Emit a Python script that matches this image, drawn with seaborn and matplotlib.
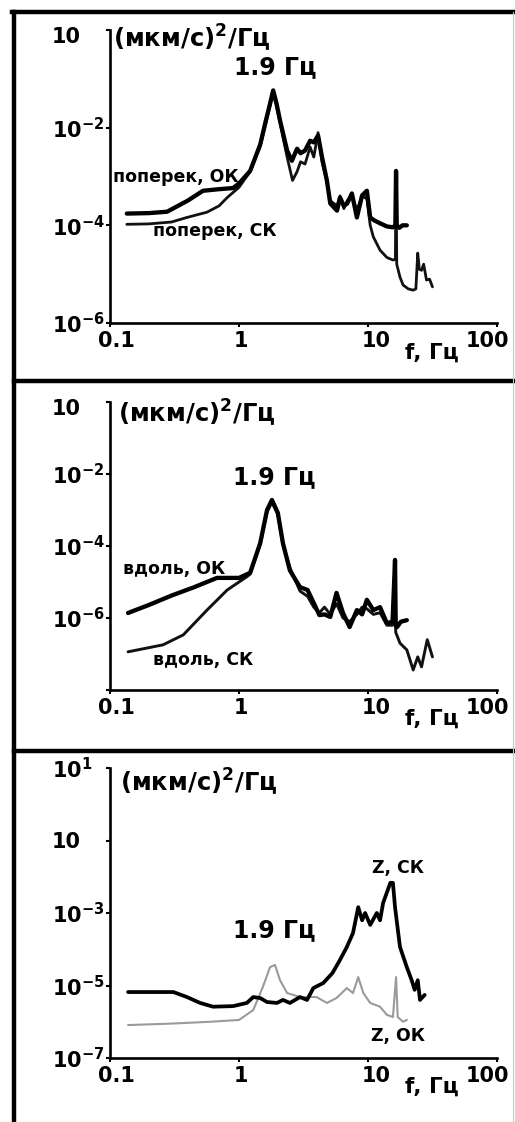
import numpy as np
import pandas as pd
import matplotlib
matplotlib.use("Agg")
import matplotlib.pyplot as plt
import seaborn as sns
from matplotlib.lines import Line2D
from matplotlib.ticker import NullLocator
from matplotlib.transforms import ScaledTranslation

# ---- data: f in Hz, spectral density in (мкм/с)^2/Гц ----
# panel 1: поперек
f_pop_ok = [0.135, 0.2, 0.277, 0.4, 0.526, 0.7, 0.9, 1.0, 1.22, 1.46, 1.6, 1.74, 1.84, 1.95, 2.08,
            2.36, 2.57, 2.82, 3.0, 3.25, 3.56, 3.8, 4.1, 4.4, 4.8, 5.1, 5.75, 6.07, 6.5, 6.9, 7.5,
            8.2, 9.0, 9.8, 10.4, 11.2, 12.4, 14.0, 15.6, 16.3, 16.5, 16.7, 17.5, 18.5, 20.0]
s_pop_ok = [1.74e-4, 1.78e-4, 1.9e-4, 3.2e-4, 5.1e-4, 5.5e-4, 5.8e-4, 7.2e-4, 1.3e-3, 4.5e-3,
            1.26e-2, 3.1e-2, 5.8e-2, 3.2e-2, 1.4e-2, 3.4e-3, 2.1e-3, 3.7e-3, 3.0e-3, 3.4e-3,
            5.4e-3, 5.0e-3, 6.9e-3, 2.5e-3, 8.3e-4, 2.8e-4, 2.0e-4, 3.7e-4, 2.5e-4, 2.8e-4,
            4.5e-4, 1.45e-4, 4.1e-4, 5.1e-4, 1.45e-4, 1.26e-4, 1.1e-4, 9.5e-5, 9.1e-5, 1.0e-4,
            1.3e-3, 1.0e-4, 8.9e-5, 1.0e-4, 1.0e-4]
f_pop_sk = [0.135, 0.2, 0.3, 0.395, 0.565, 0.7, 0.81, 1.0, 1.22, 1.46, 1.6, 1.74, 1.84, 1.95, 2.08,
            2.36, 2.6, 2.82, 3.0, 3.25, 3.56, 3.8, 4.1, 4.4, 4.8, 5.1, 5.75, 6.07, 6.5, 6.9, 7.5,
            8.2, 9.0, 9.8, 10.4, 11.0, 12.4, 14.0, 15.6, 16.3, 16.5, 16.7, 17.7, 18.7, 20.5, 22.4,
            23.5, 24.3, 25.0, 26.0, 27.0, 28.4, 30.0, 31.6]
s_pop_sk = [1.05e-4, 1.07e-4, 1.17e-4, 1.45e-4, 1.86e-4, 2.5e-4, 3.7e-4, 6.0e-4, 1.26e-3, 4.2e-3,
            1.12e-2, 2.8e-2, 5.2e-2, 2.8e-2, 1.26e-2, 2.5e-3, 8.3e-4, 1.26e-3, 2.0e-3, 1.8e-3,
            4.0e-3, 2.5e-3, 7.9e-3, 2.0e-3, 7.9e-4, 3.2e-4, 2.5e-4, 4.0e-4, 2.2e-4, 3.2e-4,
            4.0e-4, 2.0e-4, 4.0e-4, 3.5e-4, 1.0e-4, 5.8e-5, 3.1e-5, 2.2e-5, 1.95e-5, 2.0e-5,
            1.3e-3, 1.6e-5, 8.7e-6, 6.0e-6, 5.0e-6, 4.7e-6, 5.0e-6, 2.7e-5, 1.26e-5, 1.2e-5,
            1.6e-5, 7.6e-6, 7.9e-6, 5.5e-6]

# panel 2: вдоль
f_vd_ok = [0.138, 0.2, 0.3, 0.45, 0.675, 0.85, 1.0, 1.22, 1.46, 1.65, 1.8, 2.0, 2.19, 2.48, 2.97,
           3.4, 3.8, 4.2, 4.6, 5.1, 5.7, 6.4, 7.2, 8.2, 9.0, 9.8, 11.0, 12.4, 14.0, 15.5, 16.2,
           16.4, 16.8, 18.0, 20.0]
s_vd_ok = [1.38e-6, 2.3e-6, 4.2e-6, 7.2e-6, 1.3e-5, 1.3e-5, 1.3e-5, 1.8e-5, 1.2e-4, 1.0e-3,
           1.9e-3, 8.3e-4, 1.2e-4, 2.1e-5, 7.2e-6, 6.0e-6, 2.6e-6, 1.2e-6, 1.26e-6, 1.07e-6,
           5.0e-6, 1.38e-6, 5.6e-7, 1.66e-6, 1.26e-6, 3.2e-6, 1.66e-6, 2.0e-6, 7.2e-7, 7.9e-7,
           4.1e-5, 6.3e-7, 5.6e-7, 7.9e-7, 8.7e-7]
f_vd_sk = [0.138, 0.258, 0.37, 0.565, 0.81, 1.0, 1.15, 1.22, 1.46, 1.65, 1.8, 2.0, 2.19, 2.48,
           2.97, 3.4, 3.8, 4.2, 4.6, 5.1, 5.7, 6.4, 7.2, 8.2, 9.0, 9.8, 11.0, 12.4, 14.0, 15.5,
           16.2, 16.4, 17.7, 20.0, 22.4, 24.3, 26.0, 28.8, 31.6]
s_vd_sk = [1.15e-7, 1.8e-7, 3.4e-7, 1.66e-6, 6.0e-6, 1.0e-5, 1.4e-5, 1.66e-5, 1.12e-4, 8.9e-4,
           1.66e-3, 7.6e-4, 1.12e-4, 2.5e-5, 5.6e-6, 4.0e-6, 2.0e-6, 1.4e-6, 2.0e-6, 1.26e-6,
           2.5e-6, 1.0e-6, 7.9e-7, 1.26e-6, 2.0e-6, 1.8e-6, 1.26e-6, 1.4e-6, 6.3e-7, 6.3e-7,
           4.1e-5, 4.0e-7, 2.0e-7, 1.3e-7, 3.6e-8, 8.3e-8, 4.4e-8, 2.5e-7, 8.3e-8]

# panel 3: Z
f_z_sk = [0.138, 0.2, 0.31, 0.395, 0.5, 0.63, 0.9, 1.15, 1.29, 1.46, 1.65, 1.97, 2.19, 2.48, 2.97,
          3.37, 3.77, 4.5, 5.3, 6.05, 6.85, 7.65, 8.4, 9.0, 9.5, 10.4, 11.7, 12.4, 13.1, 14.9,
          15.6, 16.2, 17.7, 20.0, 21.8, 23.0, 24.3, 25.3, 27.5]
s_z_sk = [6.6e-6, 6.6e-6, 6.6e-6, 4.8e-6, 3.3e-6, 2.6e-6, 2.7e-6, 3.3e-6, 4.8e-6, 4.5e-6, 3.5e-6,
          3.3e-6, 4.0e-6, 3.3e-6, 4.8e-6, 4.0e-6, 8.5e-6, 1.17e-5, 2.2e-5, 5.0e-5, 1.15e-4,
          2.8e-4, 1.45e-3, 6.3e-4, 1.0e-3, 4.7e-4, 1.0e-3, 6.3e-4, 1.9e-3, 6.8e-3, 6.8e-3,
          1.45e-3, 1.15e-4, 3.2e-5, 1.4e-5, 7.6e-6, 1.4e-5, 4.0e-6, 5.5e-6]
f_z_ok = [0.138, 0.3, 0.6, 1.0, 1.29, 1.53, 1.74, 1.9, 2.08, 2.36, 2.97, 4.0, 4.8, 5.7, 6.85, 7.65,
          8.4, 9.2, 10.4, 12.4, 14.0, 15.6, 16.5, 17.0, 18.7, 20.0]
s_z_ok = [8.1e-7, 8.9e-7, 1.0e-6, 1.12e-6, 2.1e-6, 9.1e-6, 3.2e-5, 3.7e-5, 1.4e-5, 6.2e-6, 4.8e-6,
          4.8e-6, 3.3e-6, 4.5e-6, 8.5e-6, 6.2e-6, 1.7e-5, 6.2e-6, 3.3e-6, 2.6e-6, 1.55e-6,
          1.35e-6, 1.7e-5, 1.35e-6, 1.0e-6, 1.12e-6]

x_ticks = [0.1, 1, 10, 100]
x_labels = ["0.1", "1", "10", "100"]
unit_label = "(мкм/с)$^{2}$/Гц"
peak_label = "1.9 Гц"
freq_label = "f, Гц"

sns.set_style("white")
plt.rcParams['font.family'] = ['DejaVu Sans']
plt.rcParams['font.weight'] = 'bold'
plt.rcParams['mathtext.fontset'] = 'dejavusans'
plt.rcParams['mathtext.default'] = 'bf'
for key in ['text.color', 'axes.labelcolor', 'xtick.color', 'ytick.color',
            'xtick.labelcolor', 'ytick.labelcolor']:
    plt.rcParams[key] = 'black'

fig = plt.figure(figsize=(5.15, 11.22), dpi=100)
W, H = 515.0, 1122.0


def add_axes_px(left, top, right, bottom):
    return fig.add_axes([left / W, 1 - bottom / H, (right - left) / W, (bottom - top) / H])


def sup(e):
    return r"$10^{\mathbf{" + e + "}}$"


def style_axes(ax, ylim, yticks, ylabels):
    ax.set(xscale="log", yscale="log")
    ax.set_xlim(0.1, 100)
    ax.set_ylim(*ylim)
    for side in ["top", "right"]:
        ax.spines[side].set_visible(False)
    for side in ["left", "bottom"]:
        ax.spines[side].set_linewidth(1.9)
        ax.spines[side].set_color("black")
    ax.xaxis.set_minor_locator(NullLocator())
    ax.yaxis.set_minor_locator(NullLocator())
    ax.set_xticks(x_ticks, x_labels)
    ax.set_yticks(yticks, ylabels, ha="left")
    ax.tick_params(axis="both", direction="out", length=3, width=1.5, color="black",
                   labelsize=15, left=True, bottom=True)
    ax.tick_params(axis="y", pad=39)
    ax.tick_params(axis="x", pad=3)
    # x labels sit slightly off their ticks in the original
    for lab, dx in zip(ax.get_xticklabels(), [6, 2, 8, -10]):
        lab.set_transform(lab.get_transform() + ScaledTranslation(dx / 100, 0, fig.dpi_scale_trans))
    # a plain "10" at the very top of the axis sits a bit lower than its tick
    top_lab = ax.get_yticklabels()[0]
    if top_lab.get_text() == "10":
        top_lab.set_transform(top_lab.get_transform() + ScaledTranslation(0, -0.05, fig.dpi_scale_trans))
    ax.set_xlabel("")
    ax.set_ylabel("")
    ax.text(0.832, -0.10, freq_label, transform=ax.transAxes, ha="center", va="center",
            fontsize=15.5, clip_on=False)


def curve(ax, f, s, color, lw):
    df = pd.DataFrame({"f": f, "s": s})
    sns.lineplot(data=df, x="f", y="s", ax=ax, color=color, lw=lw, sort=False, estimator=None)


lab_fs = 12.5
unit_fs = 17.5
peak_fs = 17

# ---- panel 1 ----
ax1 = add_axes_px(110, 30, 497, 323)
ax1.set(xscale="log", yscale="log")
curve(ax1, f_pop_sk, s_pop_sk, "#111111", 2.0)
curve(ax1, f_pop_ok, s_pop_ok, "black", 3.1)
style_axes(ax1, (1e-6, 1), [1, 1e-2, 1e-4, 1e-6],
           ["10", sup("-2"), sup("-4"), sup("-6")])
ax1.text(0.008, 0.976, unit_label, transform=ax1.transAxes, fontsize=unit_fs, va="center", ha="left")
ax1.text(0.426, 0.874, peak_label, transform=ax1.transAxes, fontsize=peak_fs, va="center", ha="center")
ax1.text(0.008, 0.498, "поперек, ОК", transform=ax1.transAxes, fontsize=lab_fs, va="center", ha="left")
ax1.text(0.111, 0.314, "поперек, СК", transform=ax1.transAxes, fontsize=lab_fs, va="center", ha="left")

# ---- panel 2 ----
ax2 = add_axes_px(110, 402, 497, 690)
ax2.set(xscale="log", yscale="log")
curve(ax2, f_vd_sk, s_vd_sk, "#111111", 2.1)
curve(ax2, f_vd_ok, s_vd_ok, "black", 3.1)
style_axes(ax2, (1e-8, 1), [1, 1e-2, 1e-4, 1e-6, 1e-8],
           ["10", sup("-2"), sup("-4"), sup("-6"), ""])
ax2.text(0.021, 0.965, unit_label, transform=ax2.transAxes, fontsize=unit_fs, va="center", ha="left")
ax2.text(0.424, 0.74, peak_label, transform=ax2.transAxes, fontsize=peak_fs, va="center", ha="center")
ax2.text(0.034, 0.42, "вдоль, ОК", transform=ax2.transAxes, fontsize=lab_fs, va="center", ha="left")
ax2.text(0.111, 0.104, "вдоль, СК", transform=ax2.transAxes, fontsize=lab_fs, va="center", ha="left")

# ---- panel 3 ----
ax3 = add_axes_px(110, 768, 497, 1058)
ax3.set(xscale="log", yscale="log")
curve(ax3, f_z_ok, s_z_ok, "#9a9a9a", 1.5)
curve(ax3, f_z_sk, s_z_sk, "black", 2.7)
style_axes(ax3, (1e-7, 10), [10, 0.1, 1e-3, 1e-5, 1e-7],
           [sup("1"), "10", sup("-3"), sup("-5"), sup("-7")])
ax3.text(0.026, 0.952, unit_label, transform=ax3.transAxes, fontsize=unit_fs, va="center", ha="left")
ax3.text(0.424, 0.441, peak_label, transform=ax3.transAxes, fontsize=peak_fs, va="center", ha="center")
ax3.text(0.744, 0.655, "Z, СК", transform=ax3.transAxes, fontsize=lab_fs, va="center", ha="center")
ax3.text(0.744, 0.076, "Z, ОК", transform=ax3.transAxes, fontsize=lab_fs, va="center", ha="center")

# frame around the panels
frame = dict(color="black", lw=3.2, transform=fig.transFigure, solid_capstyle="projecting")
fig.add_artist(Line2D([12 / W, 1], [1 - 12 / H, 1 - 12 / H], **frame))
fig.add_artist(Line2D([14 / W, 14 / W], [0, 1 - 12 / H], **frame))
for yy in [381, 751]:
    fig.add_artist(Line2D([14 / W, 1], [1 - yy / H, 1 - yy / H], **frame))
fig.add_artist(Line2D([513 / W, 513 / W], [0, 1 - 12 / H], color="#c8c8c8", lw=0.8,
                      transform=fig.transFigure))

fig.savefig("out.png", dpi=100)
